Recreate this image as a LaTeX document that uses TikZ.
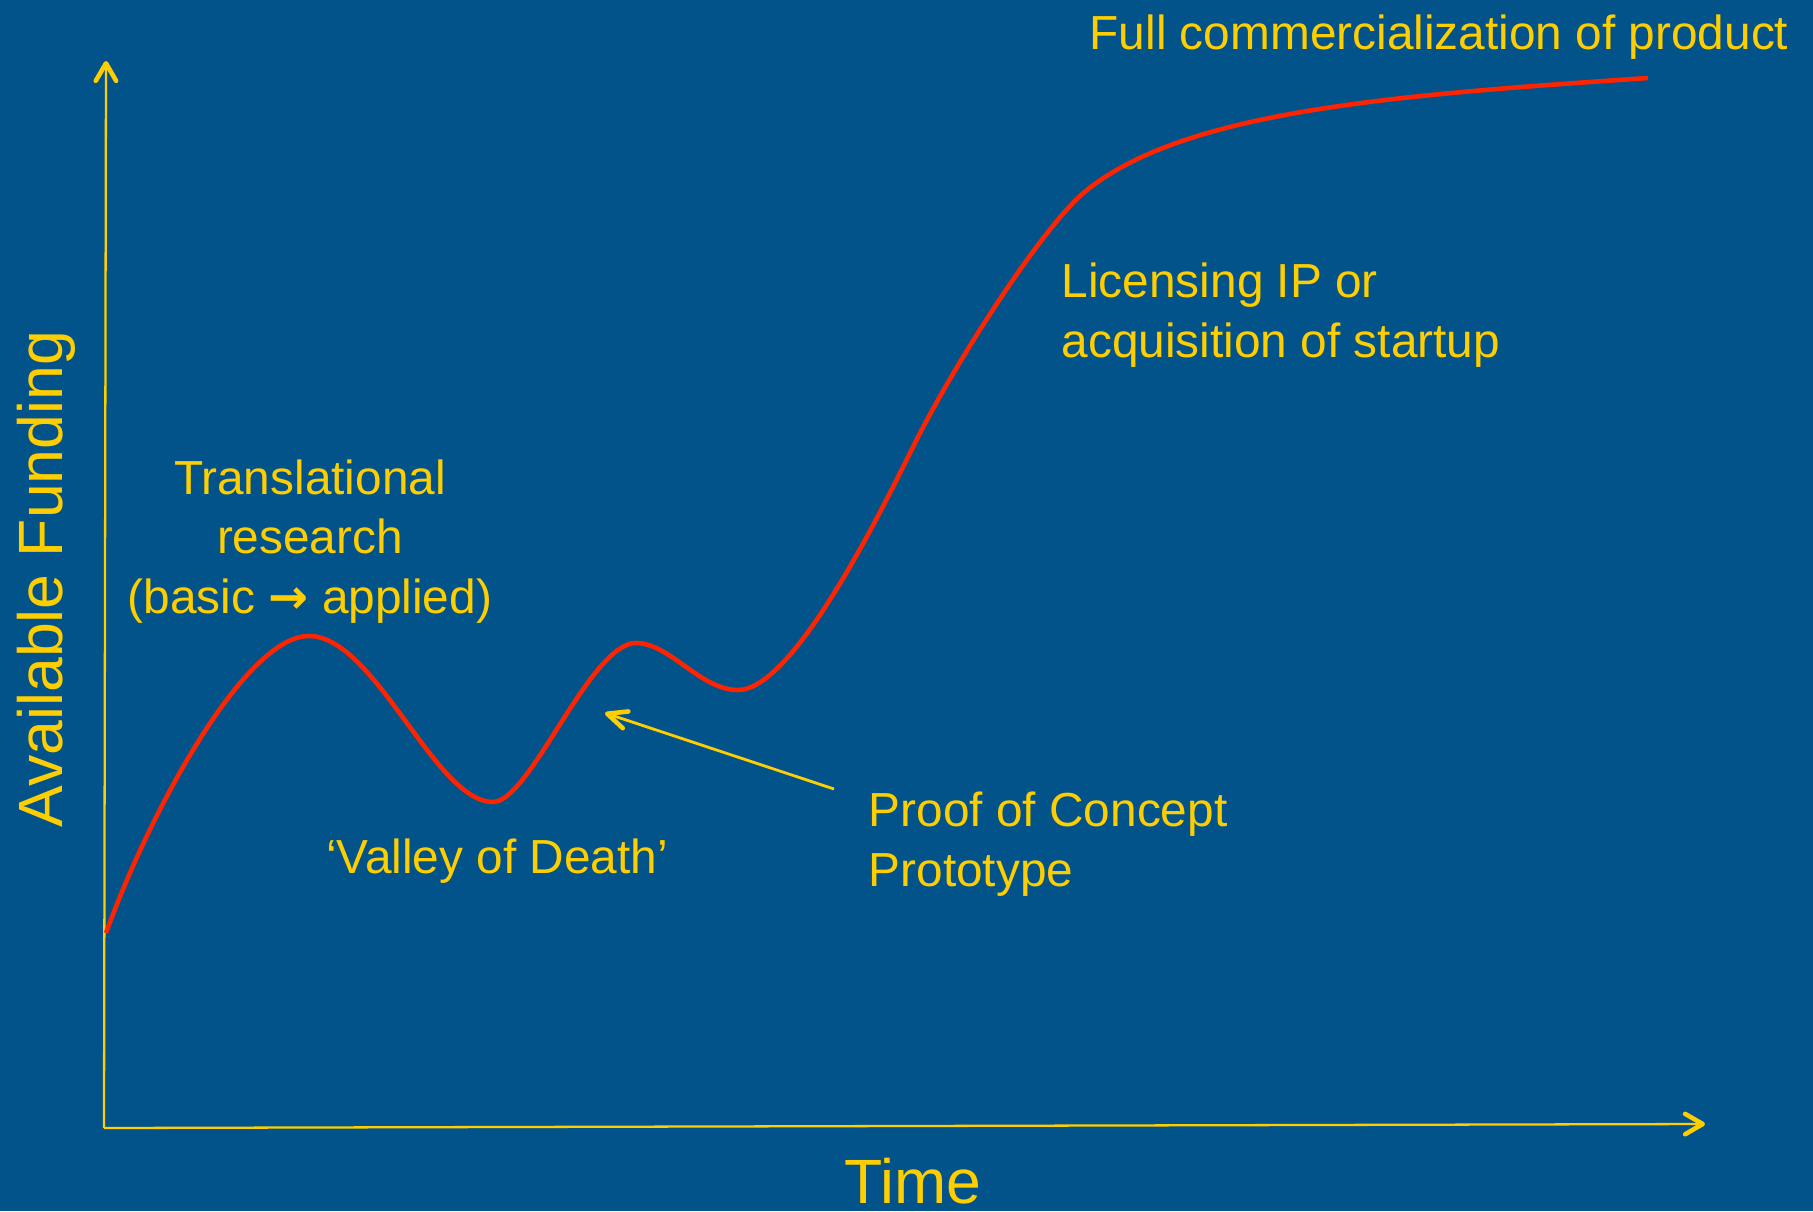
\documentclass[tikz,border=0pt]{standalone}
\usepackage{fontspec}
\setmainfont{Liberation Sans}
\newfontfamily\arrowfont{DejaVu Sans}
\usepackage{tikz}
\usetikzlibrary{arrows.meta}

\definecolor{slideblue}{RGB}{2,83,138}
\definecolor{gold}{RGB}{255,206,0}
\definecolor{curvered}{RGB}{255,36,0}

\tikzset{
    label text/.style={text=gold, inner sep=0, font=\fontsize{13.6}{16.8}\selectfont},
    axis title/.style={text=gold, inner sep=0, font=\fontsize{17.8}{20}\selectfont},
    axis/.style={draw=gold, line width=0.65pt,
        -{Straight Barb[length=5pt, width=5.8pt, line width=1.3pt, round]}},
    pointer/.style={draw=gold, line width=0.8pt,
        -{Straight Barb[length=5.5pt, width=5pt, line width=1.3pt, round]}}
}

\begin{document}
\begin{tikzpicture}

    % Background
    \fill[slideblue] (0, 0) rectangle (18.13, 12.11);
    \useasboundingbox (0, 0) rectangle (18.13, 12.11);

    % Axes
    \coordinate (O) at (1.04, 0.83);
    \coordinate (Ytop) at (1.06, 11.50);
    \coordinate (Xend) at (17.05, 0.87);
    \draw[axis] (O) -- (Ytop);
    \draw[axis] (O) -- (Xend);

    \node[axis title, anchor=base] (time) at (9.13, 0.08) {Time};
    \node[axis title, anchor=base, rotate=90] (funding) at (0.63, 6.32) {Available Funding};

    % Funding curve: rise, valley, small bump, then takeoff
    \coordinate (start) at (1.06, 2.78);
    \coordinate (peakA) at (3.09, 5.75);
    \coordinate (valleyA) at (4.93, 4.09);
    \coordinate (peakB) at (6.36, 5.68);
    \coordinate (valleyB) at (7.38, 5.21);
    \coordinate (climb) at (9.15, 7.68);
    \coordinate (bend) at (10.87, 10.21);
    \coordinate (plateau) at (16.48, 11.33);
    \draw[curvered, line width=1.3pt]
        (start) .. controls (1.50, 4.00) and (2.45, 5.75) .. (peakA)
        .. controls (3.75, 5.75) and (4.35, 4.09) .. (valleyA)
        .. controls (5.30, 4.09) and (5.90, 5.68) .. (peakB)
        .. controls (6.70, 5.68) and (7.00, 5.21) .. (valleyB)
        .. controls (7.95, 5.21) and (8.85, 7.08) .. (climb)
        .. controls (9.57, 8.52) and (10.45, 9.88) .. (bend)
        .. controls (11.87, 11.01) and (13.98, 11.16) .. (plateau);

    % Labels
    \node[label text, anchor=base, align=center] (transl) at (3.10, 5.98)
        {Translational\\research\\(basic {\arrowfont\bfseries\symbol{"2192}} applied)};
    \node[label text, anchor=base] (valley) at (4.97, 3.38) {‘Valley of Death’};
    \node[label text, anchor=base west, align=left] (poc) at (8.68, 3.25)
        {Proof of Concept\\Prototype};
    \node[label text, anchor=base west, align=left] (licensing) at (10.61, 8.54)
        {Licensing IP or\\acquisition of startup};
    \node[label text, anchor=base west] (commercial) at (10.89, 11.62)
        {Full commercialization of product};

    % Pointer to the proof of concept bump
    \coordinate (pocTail) at (8.34, 4.22);
    \coordinate (pocTip) at (6.05, 4.98);
    \draw[pointer] (pocTail) -- (pocTip);

\end{tikzpicture}
\end{document}
